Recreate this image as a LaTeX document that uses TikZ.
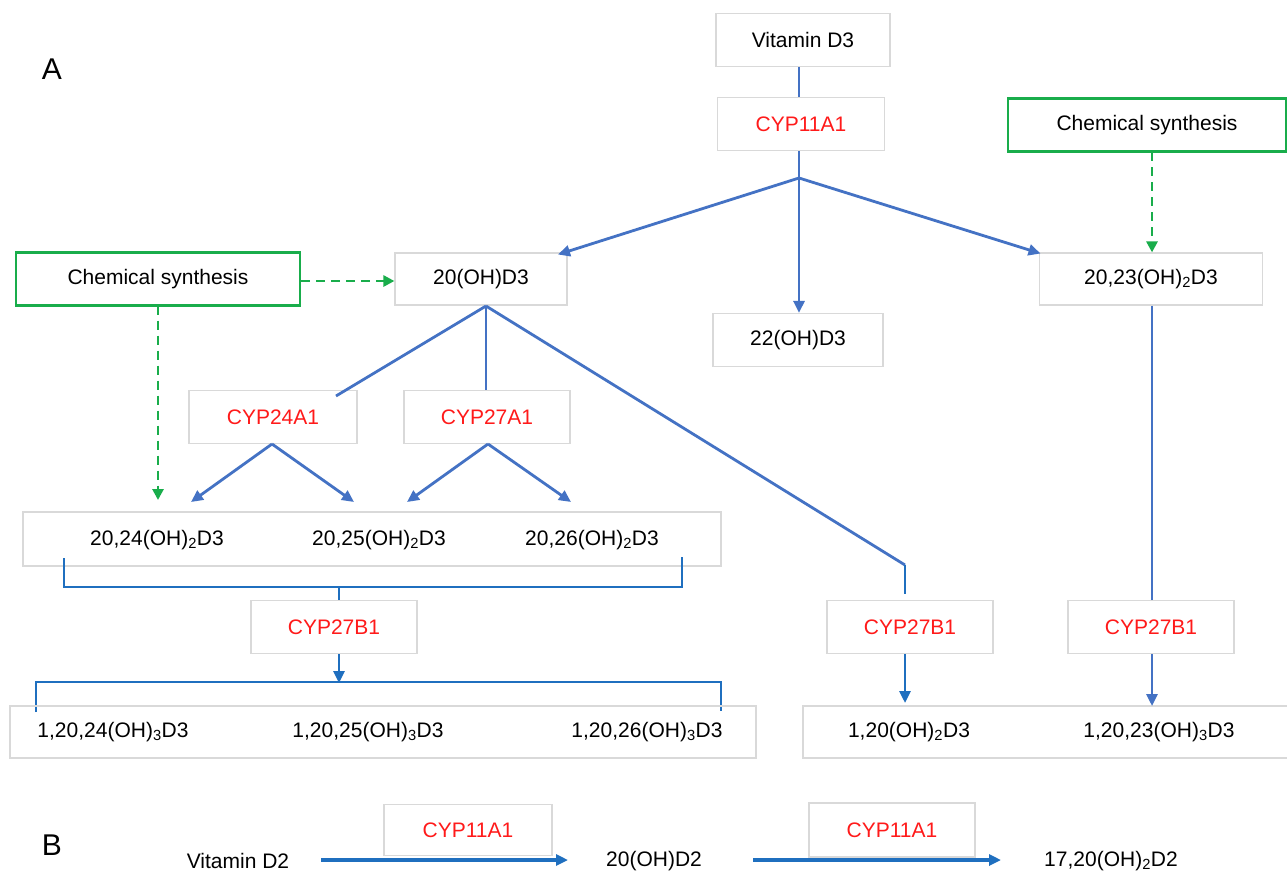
\documentclass[tikz,border=0pt]{standalone}
\usepackage{fontspec}
\setmainfont{Liberation Sans}
\usetikzlibrary{arrows.meta,calc}
\definecolor{boxgray}{HTML}{D9D9D9}
\definecolor{blueA}{HTML}{4472C4}
\definecolor{blueB}{HTML}{1F6FBF}
\definecolor{greenA}{HTML}{19AD4B}
\definecolor{redA}{HTML}{FF1A1A}
\begin{document}
\begin{tikzpicture}[x=1pt,y=-1pt,
  font=\fontsize{21}{25}\selectfont,
  gbox/.style={draw=boxgray,line width=1.2pt,inner sep=0pt,minimum width=#1},
  gbox/.default=170pt,
  enz/.style={gbox=167pt,minimum height=53pt,text=redA},
  cbox/.style={draw=greenA,line width=2.4pt,minimum height=53pt,inner sep=0pt},
  txt/.style={inner sep=0pt},
  lnA/.style={draw=blueA,line width=2.8pt},
  lnB/.style={draw=blueB,line width=2.9pt},
  arr/.style={-{Triangle[length=12pt,width=11pt]}},
  gdash/.style={draw=greenA,line width=2.8pt,dash pattern=on 9pt off 6pt,-{Triangle[length=11pt,width=11pt]}},
  lbl/.style={inner sep=0pt,font=\fontsize{30}{34}\selectfont}
]
\useasboundingbox[fill=white] (0,0) rectangle (1287,873);

\node[lbl] (A) at (52,69) {A};
\node[lbl] (B) at (52,845) {B};

% top
\node[gbox=174pt,minimum height=53pt] (vd3) at (803,40) {Vitamin D3};
\node[enz] (c11) at (801,124) {CYP11A1};
\coordinate (br) at (799,178);
\node[cbox,minimum width=278pt] (cs2) at (1147,125) {Chemical synthesis};

\node[gbox=172pt,minimum height=52pt] (d20) at (481,279) {20(OH)D3};
\node[gbox=170pt,minimum height=53pt] (d22) at (798,340) {22(OH)D3};
\node[gbox=223pt,minimum height=52pt] (d2023) at (1151,279) {20,23(OH)\textsubscript{2}D3};
\node[cbox,minimum width=284pt] (cs1) at (158,279) {Chemical synthesis};

\draw[lnA] (vd3.south -| br) -- (c11.north -| br);
\draw[lnA] (c11.south -| br) -- (br);
\draw[lnA,arr] (br) -- (558,254.5);
\draw[lnA,arr] (br) -- (d22.north -| br);
\draw[lnA,arr] (br) -- (1040.5,253.5);
\draw[gdash] (1152,152) -- (d2023.north -| 1152,0);
\draw[gdash] (cs1.east |- 0,281) -- (d20.west |- 0,281);
\draw[gdash] (158,305.5) -- (158,500);

% 20(OH)D3 branches
\node[enz,minimum width=168pt] (c24) at (273,417) {CYP24A1};
\node[enz,minimum width=166pt] (c27a) at (487,417) {CYP27A1};
\coordinate (b20) at (486,306);
\draw[lnA] (b20) -- (336,396);
\draw[lnA] (b20) -- (c27a.north -| b20);
\coordinate (k1) at (905,565);
\coordinate (k2) at (905,594);
\draw[lnA] (b20) -- (k1);
\draw[lnB] (k1) -- (k2);

\coordinate (t24) at (272,444);
\coordinate (t27) at (488,444);
\draw[lnA,arr] (t24) -- (191,502);
\draw[lnA,arr] (t24) -- (354,502);
\draw[lnA,arr] (t27) -- (407,502);
\draw[lnA,arr] (t27) -- (571,502);

% dihydroxy row
\node[gbox=698pt,minimum height=54pt] (mid) at (372,539) {};
\node[txt] (m24) at (157,540) {20,24(OH)\textsubscript{2}D3};
\node[txt] (m25) at (379,540) {20,25(OH)\textsubscript{2}D3};
\node[txt] (m26) at (592,540) {20,26(OH)\textsubscript{2}D3};

\node[enz,minimum width=166pt] (c27b1) at (334,627) {CYP27B1};
\node[enz,minimum width=166pt] (c27b2) at (910,627) {CYP27B1};
\node[enz,minimum width=166pt] (c27b3) at (1151,627) {CYP27B1};

\coordinate (bl) at (64,558);
\coordinate (brr) at (682,557);
\draw[lnB] (bl) -- (64,587) -- (682,587) -- (brr);
\draw[lnB] (339,587) -- (c27b1.north -| 339,0);
\draw[lnB,arr] (c27b1.south -| 339,0) -- (339,683);
\draw[lnB] (36,712) -- (36,682) -- (721,682) -- (721,711);

% trihydroxy row
\node[gbox=746pt,minimum height=52pt] (bot) at (383,732) {};
\node[txt] (b24) at (113,732) {1,20,24(OH)\textsubscript{3}D3};
\node[txt] (b25) at (368,732) {1,20,25(OH)\textsubscript{3}D3};
\node[txt] (b26) at (647,732) {1,20,26(OH)\textsubscript{3}D3};

\node[gbox=500pt,minimum height=52pt] (botr) at (1053,732) {};
\node[txt] (r20) at (909,732) {1,20(OH)\textsubscript{2}D3};
\node[txt] (r23) at (1159,732) {1,20,23(OH)\textsubscript{3}D3};

\draw[lnB,arr] (c27b2.south -| 905,0) -- (905,703);
\draw[lnA] (d2023.south -| 1152,0) -- (c27b3.north -| 1152,0);
\draw[lnA,arr] (c27b3.south -| 1152,0) -- (1152,706);

% B
\node[txt] (vd2) at (238,861) {Vitamin D2};
\node[enz,minimum width=168pt,minimum height=51pt] (e1) at (468,830) {CYP11A1};
\node[txt] (d20b) at (654,861) {20(OH)D2};
\node[enz,minimum width=166pt,minimum height=54pt] (e2) at (892,830) {CYP11A1};
\node[txt] (d1720) at (1111,861) {17,20(OH)\textsubscript{2}D2};
\draw[lnB,line width=3.4pt,arr] (321,860) -- (568,860);
\draw[lnB,line width=3.4pt,arr] (753,860) -- (1001,860);
\end{tikzpicture}
\end{document}
